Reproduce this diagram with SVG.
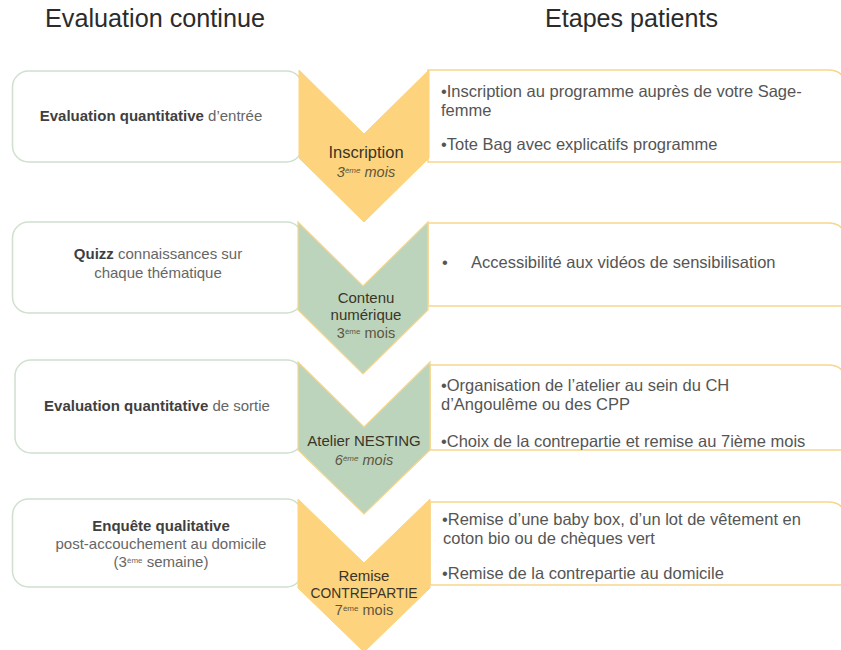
<svg xmlns="http://www.w3.org/2000/svg" width="841" height="650" viewBox="0 0 841 650">
<style>
  text { font-family: "Liberation Sans", Arial, sans-serif; }
  .hdr { font-size: 26px; fill: #2b2b2b; }
  .lbox { fill: #ffffff; stroke: #cfe0cf; stroke-width: 1.5; }
  .rbox { fill: #ffffff; stroke: #f8d58c; stroke-width: 1.5; }
  .chy { fill: #fdd47d; stroke: #fdd47d; stroke-width: 1; }
  .chg { fill: #bcd4bb; stroke: #f6d68e; stroke-width: 1.2; }
  .lt { font-size: 15px; fill: #666666; text-anchor: middle; }
  .lt .b { font-weight: 700; fill: #3f3f3f; }
  .rt { font-size: 16.5px; fill: #555555; }
  .ct { font-size: 15px; fill: #3a3528; text-anchor: middle; }
  .ct.big { font-size: 16.5px; }
  .cs { font-size: 14.5px; fill: #5e5640; text-anchor: middle; }
  .it { font-style: italic; }
  .sup { font-size: 8px; }
</style>

<g id="headers">
  <text class="hdr" x="45" y="27" textLength="220" lengthAdjust="spacingAndGlyphs">Evaluation continue</text>
  <text class="hdr" x="545" y="27" textLength="173" lengthAdjust="spacingAndGlyphs">Etapes patients</text>
</g>

<g id="connectors"></g>

<!-- Left evaluation boxes -->
<g id="eval-entree">
  <rect class="lbox" x="12.5" y="71" width="290" height="91" rx="16"/>
  <text class="lt" x="151" y="121"><tspan class="b">Evaluation quantitative</tspan> d’entrée</text>
</g>
<g id="eval-quizz">
  <rect class="lbox" x="12.5" y="222" width="290" height="91" rx="16"/>
  <text class="lt" x="158" y="259"><tspan class="b">Quizz</tspan> connaissances sur</text>
  <text class="lt" x="158" y="278">chaque thématique</text>
</g>
<g id="eval-sortie">
  <rect class="lbox" x="15" y="360" width="288" height="93" rx="16"/>
  <text class="lt" x="157" y="411"><tspan class="b">Evaluation quantitative</tspan> de sortie</text>
</g>
<g id="eval-enquete">
  <rect class="lbox" x="12.5" y="499" width="290" height="88" rx="16"/>
  <text class="lt" x="161" y="531"><tspan class="b">Enquête qualitative</tspan></text>
  <text class="lt" x="161" y="549">post-accouchement au domicile</text>
  <text class="lt" x="161" y="567">(3<tspan class="sup" dy="-4">ème</tspan><tspan dy="4"> semaine)</tspan></text>
</g>

<!-- Right patient step boxes -->
<g id="step-inscription-box">
  <path class="rbox" d="M428,70 H828 Q845,70 845,86 V162 H428 Z"/>
  <text class="rt" x="441" y="97">•Inscription au programme auprès de votre Sage-</text>
  <text class="rt" x="441" y="116">femme</text>
  <text class="rt" x="441" y="150">•Tote Bag avec explicatifs programme</text>
</g>
<g id="step-contenu-box">
  <path class="rbox" d="M428,223 H828 Q845,223 845,239 V306 H428 Z"/>
  <text class="rt" x="442" y="268">•</text>
  <text class="rt" x="471" y="268">Accessibilité aux vidéos de sensibilisation</text>
</g>
<g id="step-atelier-box">
  <path class="rbox" d="M430,365 H828 Q845,365 845,381 V450 H430 Z"/>
  <text class="rt" x="441" y="391">•Organisation de l’atelier au sein du CH</text>
  <text class="rt" x="441" y="410">d’Angoulême ou des CPP</text>
  <text class="rt" x="441" y="447">•Choix de la contrepartie et remise au 7ième mois</text>
</g>
<g id="step-remise-box">
  <path class="rbox" d="M430,502 H828 Q845,502 845,518 V585 H430 Z"/>
  <text class="rt" x="442" y="525">•Remise d’une baby box, d’un lot de vêtement  en</text>
  <text class="rt" x="443" y="544">coton bio ou de chèques vert</text>
  <text class="rt" x="442" y="579">•Remise de la contrepartie au domicile</text>
</g>

<!-- Chevrons -->
<g id="chevron-inscription">
  <polygon class="chy" points="299,70 364,134 429,70 429,158 364,222 299,158"/>
  <text class="ct big" x="366" y="158">Inscription</text>
  <text class="cs it" x="366" y="177">3<tspan class="sup" dy="-4">ème</tspan><tspan dy="4">  mois</tspan></text>
</g>
<g id="chevron-contenu">
  <polygon class="chg" points="298,222 363,286 428,222 428,310 363,374 298,310"/>
  <text class="ct" x="366" y="303">Contenu</text>
  <text class="ct" x="366" y="320">numérique</text>
  <text class="cs" x="366" y="338">3<tspan class="sup" dy="-4">ème</tspan><tspan dy="4"> mois</tspan></text>
</g>
<g id="chevron-atelier">
  <polygon class="chg" points="298,362 364,427 430,362 430,450 364,514 298,450"/>
  <text class="ct" x="364" y="446">Atelier NESTING</text>
  <text class="cs it" x="364" y="465">6<tspan class="sup" dy="-4">ème</tspan><tspan dy="4">   mois</tspan></text>
</g>
<g id="chevron-remise">
  <polygon class="chy" points="298,499 364,563 430,499 430,588 364,652 298,588"/>
  <text class="ct" x="364" y="581">Remise</text>
  <text class="ct" x="364" y="598" textLength="107" lengthAdjust="spacingAndGlyphs">CONTREPARTIE</text>
  <text class="cs" x="364" y="615">7<tspan class="sup" dy="-4">ème</tspan><tspan dy="4"> mois</tspan></text>
</g>
</svg>
